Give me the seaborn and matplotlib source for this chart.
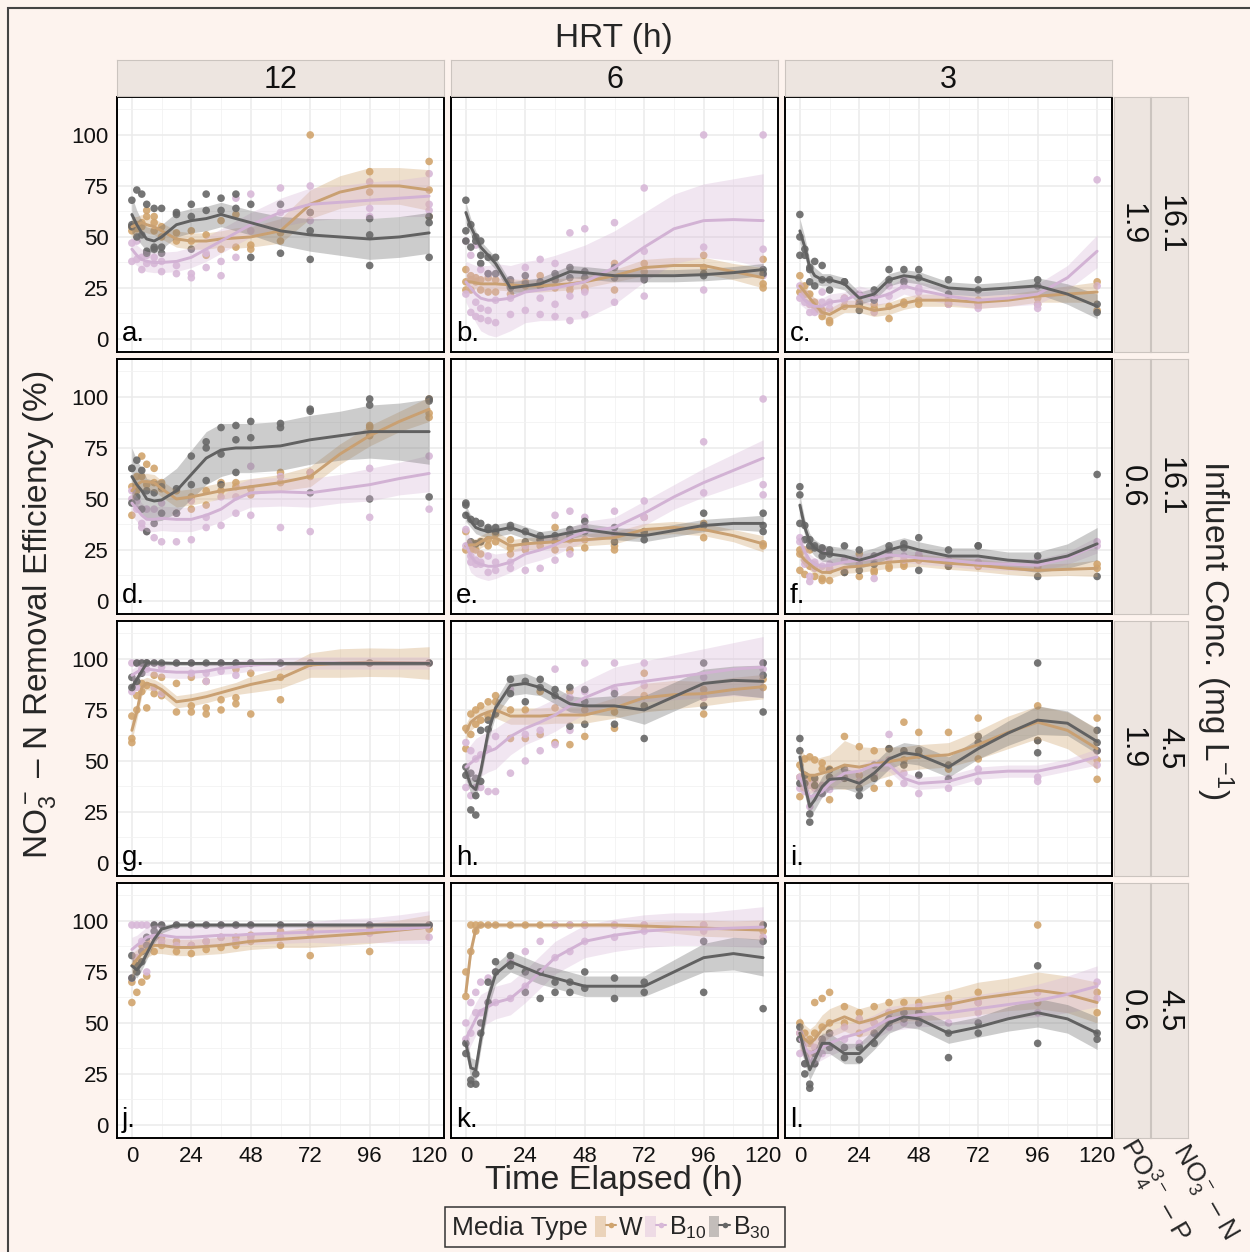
import numpy as np
import pandas as pd
import seaborn as sns
import matplotlib.pyplot as plt
from matplotlib.patches import Rectangle, Patch
from matplotlib.lines import Line2D
from matplotlib.legend_handler import HandlerTuple

sns.set_style("white")
plt.rcParams["font.family"] = ["Liberation Sans", "DejaVu Sans"]
plt.rcParams["mathtext.fontset"] = "custom"
plt.rcParams["mathtext.rm"] = "Liberation Sans"
plt.rcParams["mathtext.it"] = "Liberation Sans:italic"
plt.rcParams["mathtext.default"] = "regular"

# sampling times of the measured points and of the read-off smooth curves
T = [0, 2, 4, 6, 9, 12, 18, 24, 30, 36, 42, 48, 60, 72, 96, 120]
FT = [0, 2, 4, 6, 9, 12, 18, 24, 30, 36, 42, 48, 60, 72, 84, 96, 108, 120]

hrt = ["12", "6", "3"]
no3_conc = ["16.1", "16.1", "4.5", "4.5"]
po4_conc = ["1.9", "0.6", "1.9", "0.6"]
media = ["W", "B10", "B30"]
media_labels = ["W", "B$_{10}$", "B$_{30}$"]
letters = list("abcdefghijkl")

# ---- panel a ----
a_pts = {
    "W": [[55, 53], [56, 54], [57, 55], [60, 63], [60, 57, 53], [55, 50], [52, 48], [48, 53], [51, 41], [58, 44], [61, 45], [46, 44], [48, 52], [100, 62], [82, 72], [87, 73, 60]],
    "B10": [[47, 38], [48, 39], [34, 40], [41, 37], [37, 40], [38, 33], [32, 36], [32, 30], [35, 42], [31, 38], [40, 69], [71, 53], [74, 62], [75, 58], [77, 64, 60], [81, 66, 63]],
    "B30": [[68, 56, 55], [73, 50], [71, 51], [66, 43, 42], [64, 44, 45], [64, 45, 42], [62, 61], [66, 60, 44], [71, 63], [69, 63], [71, 64], [66, 40], [66, 42], [62, 53, 39], [59, 51, 36], [60, 57, 40]],
}
a_fit = {
    "W": [55, 56, 57, 56, 55, 53, 49, 48, 48, 49, 49.5, 50, 53, 66, 72, 75, 75, 73],
    "B10": [44, 41, 39, 38, 37.5, 37.5, 38, 40, 44, 48, 52, 56, 62, 66, 67, 68, 69, 70],
    "B30": [61, 56, 52, 49, 48, 50, 56, 58, 59, 61, 59, 57, 53, 51, 50, 49, 50, 52],
}
a_band = {
    "W": [5, 4, 4, 4, 4, 4, 4, 4, 4, 4, 5, 5, 6, 7, 8, 9, 9, 10],
    "B10": [6, 5, 5, 5, 5, 5, 5, 5, 6, 6, 6, 6, 7, 8, 8, 9, 9, 10],
    "B30": [9, 7, 6, 6, 6, 6, 6, 6, 6, 6, 6, 6, 7, 8, 9, 10, 10, 10],
}

# ---- panel b ----
b_pts = {
    "W": [[34, 28, 24], [31, 29, 24], [30, 28], [29, 24], [30, 23], [29, 23], [28, 22], [28, 26], [31, 26], [29, 25], [24, 26], [25, 24], [37, 24], [37, 33], [41, 35], [39, 27, 25]],
    "B10": [[48, 22], [41, 13], [46, 18, 11], [34, 15, 10], [32, 14, 9], [19, 8], [20, 12], [35, 14], [39, 20, 12], [37, 17, 11], [52, 21, 9], [54, 23, 12], [57, 18], [74, 43, 21], [100, 45, 24], [100, 44, 31]],
    "B30": [[68, 53, 48], [56, 45], [50, 48], [48, 41, 37], [40, 32], [40, 32], [29, 25], [31, 27], [26, 28], [32, 29], [35, 30], [33, 30], [35, 30], [30, 29], [32, 31], [34, 32]],
}
b_fit = {
    "W": [28, 28, 27.5, 27, 27, 27, 26.5, 26, 26, 26.5, 27, 28, 31, 35, 36, 36, 33, 30],
    "B10": [28, 25, 22, 20, 19, 19, 20, 23, 24, 25, 26.5, 28, 35, 45, 54, 58, 58.5, 58],
    "B30": [62, 55, 50, 45, 41, 37, 25, 26, 27, 30, 33, 32.5, 31, 31, 31, 31.5, 32.5, 34],
}
b_band = {
    "W": [4, 3, 3, 3, 3, 3, 3, 3, 3, 3, 3, 3, 3, 4, 4, 4, 4, 5],
    "B10": [10, 12, 14, 16, 17, 18, 16, 15, 15, 16, 17, 18, 18, 17, 17, 18, 20, 23],
    "B30": [5, 4, 3, 3, 3, 3, 3, 3, 3, 3, 3, 3, 3, 3, 3, 3, 3, 3],
}

# ---- panel c ----
c_pts = {
    "W": [[31, 23], [26, 22], [22, 17], [16, 18], [14, 11], [8, 9], [20, 16], [17, 18], [15, 17], [10, 16], [17, 18], [19, 17], [17, 18], [17, 19], [20, 17], [28, 14]],
    "B10": [[26, 20], [22, 18], [17, 13], [14, 13], [23, 18], [15, 18], [20, 19], [22, 17], [21, 13], [21, 26], [26, 29], [23, 25], [17, 20], [17, 15], [15, 17], [78, 26]],
    "B30": [[61, 50, 41], [44, 41], [35, 34, 28], [38, 26], [36, 29], [29, 24], [28, 28], [14, 17], [24, 19], [34, 29], [34, 28], [34, 30], [29, 22], [29, 24], [29, 26], [17, 13]],
}
c_fit = {
    "W": [26, 23, 20, 17, 13, 12, 16, 16, 14, 15, 17.5, 19, 19, 18, 19, 21, 22, 23],
    "B10": [22, 19, 17, 16, 16, 18, 19, 22, 20, 22, 26, 24, 21, 19, 20, 22, 30, 43],
    "B30": [53, 45, 35, 31, 29, 29, 27, 20, 22, 29, 31, 30, 25, 24, 25, 26, 22, 16],
}
c_band = {
    "W": [4, 3, 3, 3, 3, 3, 3, 3, 3, 3, 3, 3, 3, 3, 3, 3, 4, 5],
    "B10": [5, 4, 4, 4, 4, 4, 4, 4, 4, 4, 4, 4, 4, 4, 4, 5, 6, 8],
    "B30": [6, 5, 4, 4, 3, 3, 3, 3, 3, 3, 3, 3, 3, 3, 3, 4, 5, 6],
}

# ---- panel d ----
d_pts = {
    "W": [[56, 42], [61, 54], [71, 61], [67, 57], [65, 58], [58, 55], [54, 43], [51, 45], [54, 47], [58, 54], [58, 56], [55, 52], [63, 58], [63, 61], [86, 85, 81], [99, 92, 90]],
    "B10": [[54, 50], [49, 45], [38, 36], [45, 34], [31, 45], [29, 48], [29, 43], [30, 49], [36, 41], [37, 51], [43, 51], [42, 66], [36, 61], [34, 63], [41, 65], [45, 71]],
    "B30": [[65, 65, 48], [69, 51], [64, 45], [54, 34], [53, 38], [56, 43], [55, 43], [71, 57], [78, 75, 59], [85, 72, 57], [86, 79, 63], [88, 80], [87, 85], [94, 93, 53], [99, 96, 50], [99, 98, 51]],
}
d_fit = {
    "W": [54, 57, 58.5, 58.5, 58, 55, 50, 51, 52.5, 54, 55, 56, 58, 61, 72, 81, 88, 94],
    "B10": [48, 45, 42, 40, 40, 40.5, 40, 40, 42, 45, 50, 53, 53.5, 53, 55, 57, 60, 62.5],
    "B30": [61, 57, 54, 50, 49, 49.5, 54, 62, 70, 74, 75, 75, 76, 79, 81, 83, 83, 83],
}
d_band = {
    "W": [5, 4, 4, 4, 4, 4, 4, 4, 4, 4, 4, 4, 4, 5, 5, 5, 5, 6],
    "B10": [6, 6, 6, 6, 6, 6, 6, 6, 6, 6, 7, 7, 7, 7, 7, 8, 8, 9],
    "B30": [14, 12, 11, 10, 10, 10, 11, 12, 13, 13, 12, 12, 12, 12, 12, 13, 14, 16],
}

# ---- panel e ----
e_pts = {
    "W": [[34, 25], [27, 25], [28, 25], [29, 23], [30, 27], [33, 29], [30, 26, 23], [27, 25], [30, 27], [36, 25], [30, 25], [30, 26], [27, 25], [41, 33], [38, 31], [28, 27]],
    "B10": [[35, 27], [22, 19], [20, 18], [19, 18], [22, 14], [19, 15], [16, 19], [27, 15], [16, 30], [42, 20], [44, 23], [41, 36], [44, 33], [49, 41], [78, 53], [99, 57, 52]],
    "B30": [[48, 47, 42], [40, 29], [39, 28], [38, 29], [36, 35], [36, 34], [37, 36], [34, 29], [32, 30], [32, 29], [35, 32], [39, 34], [36, 29], [34, 30], [43, 37], [43, 37, 34]],
}
e_fit = {
    "W": [27, 27.5, 27.5, 29, 31, 31, 27, 28, 28.5, 29, 29.5, 30, 31, 35, 36, 35, 32, 28],
    "B10": [28, 22, 19, 18, 17, 17, 19, 23, 25, 27.5, 31, 34, 36, 43, 51, 58, 64, 70],
    "B30": [43, 39, 36, 35, 34, 34.5, 36, 33.5, 31, 32, 33.5, 35, 33, 32, 34.5, 37, 38, 38],
}
e_band = {
    "W": [3, 3, 3, 3, 3, 3, 3, 3, 3, 3, 3, 3, 3, 3, 3, 3, 3, 4],
    "B10": [8, 8, 7, 7, 7, 6, 5, 5, 5, 5, 5, 5, 5, 6, 6, 7, 8, 9],
    "B30": [4, 3, 3, 3, 3, 3, 3, 3, 3, 3, 3, 3, 3, 3, 3, 3, 3, 4],
}

# ---- panel f ----
f_pts = {
    "W": [[25, 23, 15], [25, 13], [25, 17], [18, 12], [11, 10], [10, 15], [14, 14], [12, 23], [14, 15], [16, 17], [17, 18], [22, 20], [17, 18], [17, 17], [16, 17], [18, 16]],
    "B10": [[31, 29], [18, 20], [12, 9.5], [19, 16], [25, 17], [18, 16], [20, 15], [20, 18], [11, 19], [23, 21], [22, 20], [23, 21], [20, 19], [18, 19], [20, 18], [29, 27]],
    "B30": [[56, 52, 38], [37, 30], [30, 27], [27, 26], [26, 22], [25, 23], [27, 14], [25, 15], [22, 18], [27, 25], [28, 26], [31, 15], [25, 17], [27, 27], [22, 12], [62, 12]],
}
f_fit = {
    "W": [23, 20, 18, 16, 14, 14, 16.5, 17, 18, 19, 19.5, 20, 18.5, 17.5, 16, 15, 15.5, 16],
    "B10": [30, 24, 20, 18, 17, 17.5, 19, 20, 21, 22.5, 22, 21, 20, 18.5, 18, 17.5, 21, 27.5],
    "B30": [47, 36, 29, 26, 23.5, 23, 22, 20, 22, 25, 27, 25, 22, 22, 20, 19, 22, 28],
}
f_band = {
    "W": [3, 3, 3, 3, 3, 3, 3, 3, 3, 3, 3, 3, 3, 3, 3, 3, 3, 4],
    "B10": [4, 3, 3, 3, 3, 3, 3, 3, 3, 3, 3, 3, 3, 3, 3, 3, 3, 4],
    "B30": [5, 4, 4, 4, 4, 4, 4, 4, 4, 4, 4, 4, 4, 4, 4, 5, 6, 8],
}

# ---- panel g ----
g_pts = {
    "W": [[61, 59, 72], [75, 82], [88, 84], [87, 76], [83, 92], [91, 82], [88, 74], [91, 77, 74], [89, 76, 73], [80, 75], [95, 81, 78], [93, 73], [91, 80], [98], [98], [98]],
    "B10": [[98, 84], [98, 86], [98, 95], [98, 95], [86, 98], [83, 96], [98], [98, 93], [93, 89], [94, 98], [92, 98], [98], [98], [98], [98], [98]],
    "B30": [[91, 86], [89, 98], [93, 98], [98, 98], [98], [98], [98], [98], [98], [98], [98], [98], [98], [98], [98], [98]],
}
g_fit = {
    "W": [65, 74, 86, 88, 87, 85, 79, 80, 81.5, 83.5, 85.5, 87.5, 90.5, 97, 98, 98.4, 98.2, 98],
    "B10": [92, 93.5, 95, 95, 94.6, 94, 93.5, 93.5, 94, 95.4, 96, 97, 97.7, 98, 98, 98, 98, 98],
    "B30": [86, 90, 94, 98, 98, 98, 97.8, 97.8, 97.8, 97.8, 97.8, 97.8, 97.8, 97.8, 97.8, 97.8, 97.8, 97.8],
}
g_band = {
    "W": [5, 4, 4, 3, 3, 3, 3, 3, 3, 3, 3, 4, 5, 6, 7, 7, 7, 8],
    "B10": [3, 3, 3, 3, 3, 3, 3, 3, 3, 3, 3, 3, 3, 3, 3, 3, 3, 3],
    "B30": [2, 2, 1.5, 1, 1, 1, 1, 1, 1, 1, 1, 1, 1, 1, 1, 1, 1, 1],
}

# ---- panel h ----
h_pts = {
    "W": [[66, 56], [73, 63], [75, 68], [77, 70], [79, 72], [82, 79], [75, 61], [75, 61], [84, 63], [76, 59], [84, 58], [62, 75], [66, 74], [93, 82], [73, 85], [86, 90]],
    "B10": [[59, 37], [55, 33], [51, 37], [53, 37], [56, 35], [62, 35], [44, 85], [50, 63], [55, 65], [95, 58], [81, 65], [98, 84], [98, 85], [98, 87], [91, 81], [95, 98]],
    "B30": [[47, 43], [44, 26], [41.5, 23.5, 33], [40, 65], [65.5, 70], [73], [90, 83], [89, 79], [90, 86], [85, 82], [86, 67], [85, 79, 68], [83, 68], [77, 61], [98, 77], [98, 92, 74]],
}
h_fit = {
    "W": [64, 69, 71, 72.5, 74, 75, 72, 72, 72, 72.5, 72.5, 72.5, 76, 81, 82.5, 83, 85, 86.4],
    "B10": [47, 49, 51, 52.5, 54.6, 56, 62, 66, 69, 72.5, 77, 81, 87, 89, 91, 93, 95, 96],
    "B30": [45, 38, 36, 45, 64, 76, 87, 88, 86, 82, 78, 77, 77, 75, 81.5, 88, 89.5, 89],
}
h_band = {
    "W": [4, 4, 4, 4, 4, 4, 4, 4, 4, 4, 4, 4, 5, 7, 7, 6, 6, 6],
    "B10": [8, 9, 10, 10, 10, 10, 9, 8, 8, 8, 8, 8, 9, 10, 11, 12, 13, 15],
    "B30": [4, 4, 4, 4, 4, 4, 5, 5, 4, 4, 4, 4, 5, 7, 7, 7, 7, 8],
}

# ---- panel i ----
i_pts = {
    "W": [[48, 32.5, 42], [51, 42], [52, 41.5], [50.5], [49, 46], [46, 31], [62, 42], [57, 43], [55, 36.6], [39, 56], [69, 50.5], [64, 53], [64, 46], [71, 51], [77, 60], [71, 50.5, 41]],
    "B10": [[42, 36.6], [40, 35], [27.6, 38], [36.6, 40], [35, 38], [36], [41.5], [40], [43], [63, 50.5], [44, 39], [43, 34], [41.5, 36.6], [46, 40], [42, 40], [48, 55]],
    "B30": [[61, 55, 39], [43, 39], [24, 20], [41.5, 38], [34], [45.6, 42], [46, 41.5], [36.6, 33], [48, 41.5], [56], [55, 48], [55, 43], [48, 41], [62, 59], [98, 60, 54], [65, 59, 55]],
}
i_fit = {
    "W": [46, 44, 43, 43, 44, 45, 48, 47, 48.5, 49.7, 51, 52, 53, 58, 64, 69, 65, 56],
    "B10": [41.5, 37, 32.5, 33, 35, 39, 44, 45, 48, 48, 41.5, 39, 40, 44, 45, 45, 48, 52],
    "B30": [52, 38, 27.6, 31, 37.4, 41, 41.5, 39, 44, 51, 54, 53, 47, 56, 63.6, 70, 68.5, 59.5],
}
i_band = {
    "W": [10, 9, 9, 8, 8, 8, 12, 10, 8, 7, 6, 6, 6, 7, 8, 8, 9, 10],
    "B10": [3, 3, 3, 3, 3, 3, 3, 3, 3, 3, 3, 3, 3, 3, 3, 3, 3, 4],
    "B30": [6, 5, 5, 5, 5, 5, 5, 5, 5, 5, 5, 5, 5, 5, 6, 7, 6, 6],
}

# ---- panel j ----
j_pts = {
    "W": [[60, 70], [65, 80], [70, 88], [73, 90], [85, 92], [88, 92], [85, 90], [84, 88], [86, 90], [87, 92], [88, 92], [90, 93], [88, 95], [83, 95], [85, 97], [98, 96]],
    "B10": [[98, 72], [98, 82], [98, 90], [75, 98], [98, 92], [98, 90], [98, 88], [88, 98], [90, 98], [92, 98], [90, 98], [92, 98], [98, 92], [98, 94], [98, 94], [98, 92]],
    "B30": [[83, 72], [75, 78], [80, 85], [88, 92], [95, 98], [98], [98], [98], [98], [98], [98], [98], [98], [98], [98], [98]],
}
j_fit = {
    "W": [78, 81, 84, 86, 88, 88, 87, 87, 87.5, 88, 89, 90, 91, 92, 93, 94, 95.5, 97],
    "B10": [86, 88, 90, 92, 93, 93, 92, 92, 92.5, 93, 93, 93.5, 94, 94.5, 95, 95.5, 96, 97],
    "B30": [78, 76, 79, 84, 91, 96, 98, 98, 98, 98, 98, 98, 98, 98, 98, 98, 98, 98],
}
j_band = {
    "W": [6, 5, 5, 4, 4, 4, 4, 4, 4, 4, 4, 4, 4, 5, 5, 5, 5, 6],
    "B10": [6, 5, 5, 5, 5, 5, 5, 5, 5, 5, 5, 5, 5, 5, 6, 6, 7, 8],
    "B30": [4, 4, 3, 3, 2, 2, 1, 1, 1, 1, 1, 1, 1, 1, 1, 1, 1, 1],
}

# ---- panel k ----
k_pts = {
    "W": [[63, 75], [85, 98], [98, 95], [98], [98], [98], [98], [98], [98], [98], [98], [98], [98], [98], [98], [98, 95]],
    "B10": [[42, 50], [45, 60], [55, 65], [55, 70], [60, 72], [60, 75], [62, 80], [68, 85], [75, 90], [82, 98], [85, 98], [90, 98], [92, 98], [95, 98], [95, 98], [98, 92]],
    "B30": [[40, 35], [22, 20], [20, 25], [50, 45], [70, 60], [75, 80], [83, 78], [75, 65], [62, 75], [65, 70], [65, 70], [67, 75], [62, 72], [65, 70], [65, 90], [57, 90, 98]],
}
k_fit = {
    "W": [65, 85, 96, 98, 98, 98, 98, 98, 98, 98, 98, 98, 98, 97.5, 97, 96.5, 96, 95.5],
    "B10": [42, 47, 52, 56, 58, 60, 62, 68, 75, 82, 86, 90, 93, 95, 96, 96, 96.5, 97],
    "B30": [40, 28, 27, 42, 62, 74, 80, 77, 74, 72, 70, 68, 68, 68, 75, 82, 84, 82],
}
k_band = {
    "W": [4, 3, 2, 1, 1, 1, 1, 1, 1, 1, 1, 1, 1, 2, 3, 4, 4, 5],
    "B10": [8, 8, 8, 8, 8, 8, 8, 8, 8, 8, 8, 8, 8, 8, 8, 8, 9, 10],
    "B30": [5, 5, 5, 5, 5, 5, 5, 5, 5, 5, 5, 5, 5, 5, 6, 7, 8, 9],
}

# ---- panel l ----
l_pts = {
    "W": [[50, 45], [45, 40], [40, 42], [60, 45], [62, 48], [65, 50], [58, 50], [45, 55], [50, 58], [55, 60], [52, 60], [55, 60], [58, 62], [60, 65], [60, 98], [55, 65]],
    "B10": [[45, 35], [40, 30], [35, 32], [38, 30], [35, 42], [38, 45], [42, 48], [40, 52], [45, 50], [48, 55], [50, 55], [52, 58], [50, 60], [55, 60], [55, 65], [70, 62]],
    "B30": [[48, 42], [30, 25], [20, 18], [30, 35], [40, 42], [38, 45], [33, 38], [32, 38], [40, 45], [50, 52], [52, 55], [50, 55], [33, 45], [45, 50], [40, 78], [42, 45]],
}
l_fit = {
    "W": [45, 42, 40, 42, 47, 50, 53, 50, 52, 55, 57, 57, 59, 62, 64, 66, 64, 60],
    "B10": [42, 38, 35, 36, 38, 40, 43, 45, 48, 52, 53, 54, 55, 57, 59, 61, 64, 68],
    "B30": [45, 35, 27, 32, 40, 40, 35, 35, 42, 50, 53, 52, 45, 48, 52, 55, 52, 45],
}
l_band = {
    "W": [8, 7, 7, 7, 7, 7, 7, 7, 7, 6, 6, 6, 7, 8, 8, 9, 9, 10],
    "B10": [6, 6, 6, 6, 6, 6, 6, 6, 6, 6, 6, 6, 6, 7, 7, 8, 9, 10],
    "B30": [6, 5, 5, 5, 5, 5, 5, 5, 5, 5, 5, 5, 5, 5, 6, 7, 7, 8],
}

all_pts = [a_pts, b_pts, c_pts, d_pts, e_pts, f_pts, g_pts, h_pts, i_pts, j_pts, k_pts, l_pts]
all_fit = [a_fit, b_fit, c_fit, d_fit, e_fit, f_fit, g_fit, h_fit, i_fit, j_fit, k_fit, l_fit]
all_band = [a_band, b_band, c_band, d_band, e_band, f_band, g_band, h_band, i_band, j_band, k_band, l_band]

# long tables
rows = []
for p, pts in zip(letters, all_pts):
    for m in media:
        for t, vals in zip(T, pts[m]):
            for v in vals:
                rows.append((p, m, t, v))
points = pd.DataFrame(rows, columns=["panel", "media", "time", "eff"])

rows = []
for p, fit, band in zip(letters, all_fit, all_band):
    for m in media:
        for t, f, b in zip(FT, fit[m], band[m]):
            rows.append((p, m, t, f, b))
smooth = pd.DataFrame(rows, columns=["panel", "media", "time", "fit", "se"])

pt_pal = {"W": "#D1A46D", "B10": "#D8B8D8", "B30": "#666666"}
line_pal = {"W": "#C9A072", "B10": "#D2B2D4", "B30": "#616161"}
band_pal = {"W": "#D1A46D", "B10": "#D8B8D8", "B30": "#6E6E6E"}

W_PX, H_PX = 1250, 1252
BG = "#FDF3EE"
STRIP = "#EDE5E0"
STRIP_EDGE = "#CBC4BF"


def fbox(x, y, w, h):
    return [x / W_PX, 1 - (y + h) / H_PX, w / W_PX, h / H_PX]


fig = plt.figure(figsize=(12.5, 12.52), dpi=100, facecolor=BG)

col_x = [117, 451, 785]
row_y = [97, 359, 621, 883]
pw, ph = 327, 255

for idx, p in enumerate(letters):
    r, c = divmod(idx, 3)
    ax = fig.add_axes(fbox(col_x[c], row_y[r], pw, ph))
    ax.set_facecolor("white")
    ax.set_axisbelow(True)
    dp = points[points["panel"] == p]
    sns.scatterplot(data=dp, x="time", y="eff", hue="media", palette=pt_pal,
                    hue_order=media, s=30, alpha=0.9, edgecolor="none",
                    legend=False, ax=ax, zorder=2)
    ds = smooth[smooth["panel"] == p]
    for m in media:
        dm = ds[ds["media"] == m]
        ax.fill_between(dm["time"], dm["fit"] - dm["se"], dm["fit"] + dm["se"],
                        color=band_pal[m], alpha=0.35, lw=0, zorder=3)
    sns.lineplot(data=ds, x="time", y="fit", hue="media", palette=line_pal,
                 hue_order=media, lw=2.1, legend=False, ax=ax, zorder=4,
                 estimator=None, sort=True)
    ax.set_xlim(-6, 126)
    ax.set_ylim(-6.4, 118.6)
    ax.set_xticks([0, 24, 48, 72, 96, 120])
    ax.set_xticks([12, 36, 60, 84, 108], minor=True)
    ax.set_yticks([0, 25, 50, 75, 100])
    ax.set_yticks([12.5, 37.5, 62.5, 87.5, 112.5], minor=True)
    ax.grid(which="major", color="#EBEBEB", lw=1.1)
    ax.grid(which="minor", color="#F2F2F2", lw=0.6)
    ax.set_xlabel("")
    ax.set_ylabel("")
    for s in ax.spines.values():
        s.set_color("black")
        s.set_linewidth(1.4)
    ax.tick_params(which="minor", length=0)
    ax.tick_params(which="major", length=4, width=1, color="#333333",
                   labelsize=16, labelcolor="#111111", pad=2)
    if c != 0:
        ax.tick_params(axis="y", which="major", length=0, labelleft=False)
    if r != 3:
        ax.tick_params(axis="x", which="major", length=0, labelbottom=False)
    ax.text(0.015, 0.045, p + ".", transform=ax.transAxes, fontsize=20,
            ha="left", va="baseline", color="black", zorder=6)

# top strips
for c, lab in enumerate(hrt):
    sax = fig.add_axes(fbox(col_x[c], 60, pw, 36))
    sax.set_facecolor(STRIP)
    sax.set_xticks([])
    sax.set_yticks([])
    for s in sax.spines.values():
        s.set_color(STRIP_EDGE)
    sax.text(0.5, 0.45, lab, transform=sax.transAxes, ha="center", va="center",
             fontsize=22, color="#111111")

# right strips
for r in range(4):
    for x0, w0, lab in [(1114, 36, po4_conc[r]), (1151, 37, no3_conc[r])]:
        sax = fig.add_axes(fbox(x0, row_y[r], w0, ph))
        sax.set_facecolor(STRIP)
        sax.set_xticks([])
        sax.set_yticks([])
        for s in sax.spines.values():
            s.set_color(STRIP_EDGE)
        sax.text(0.5, 0.5, lab, transform=sax.transAxes, ha="center", va="center",
                 rotation=-90, fontsize=22, color="#111111")

fig.text(614 / W_PX, 1 - 39 / H_PX, "HRT (h)", ha="center", va="center", fontsize=24)
fig.text(614 / W_PX, 1 - 1181 / H_PX, "Time Elapsed (h)", ha="center", va="center",
         fontsize=24.5)
fig.text(40 / W_PX, 1 - 615 / H_PX, "NO$_3^-$ \u2013 N Removal Efficiency (%)",
         ha="center", va="center", rotation=90, fontsize=24)
fig.text(1215 / W_PX, 1 - 630 / H_PX, "Influent Conc. (mg L$^{-1}$)",
         ha="center", va="center", rotation=-90, fontsize=24)
fig.text(1141 / W_PX, 1 - 1133 / H_PX, "PO$_4^{3-}$ \u2013 P", ha="left",
         va="top", rotation=-60, rotation_mode="anchor", fontsize=19)
fig.text(1190 / W_PX, 1 - 1139 / H_PX, "NO$_3^-$ \u2013 N", ha="left",
         va="top", rotation=-60, rotation_mode="anchor", fontsize=19)

# legend
fig.patches.append(Rectangle((445 / W_PX, 1 - 1247 / H_PX), 340 / W_PX, 40 / H_PX,
                             transform=fig.transFigure, fill=False, ec="#333333",
                             lw=1.1))
fig.text(452 / W_PX, 1 - 1228 / H_PX, "Media Type", ha="left", va="center",
         fontsize=19)
handles = []
for m in media:
    handles.append((Patch(facecolor=band_pal[m], alpha=0.4, edgecolor="none"),
                    Line2D([], [], color=line_pal[m], lw=1.5, marker="o",
                           markersize=4, markerfacecolor=pt_pal[m],
                           markeredgecolor="none")))
fig.legend(handles, media_labels, handler_map={tuple: HandlerTuple(ndivide=None, pad=0)},
           loc="center left", bbox_to_anchor=(595 / W_PX, 1 - 1228 / H_PX),
           ncol=3, frameon=False, fontsize=18, handlelength=0.85, handleheight=0.95,
           handletextpad=0.1, columnspacing=0.1, borderpad=0, borderaxespad=0)

# outer frame
fig.patches.append(Rectangle((8 / W_PX, -0.01), 1.02, 1 - 8 / H_PX + 0.01,
                             transform=fig.transFigure, fill=False, ec="#444444",
                             lw=1.5))

fig.savefig("out.png", dpi=100, facecolor=BG)
